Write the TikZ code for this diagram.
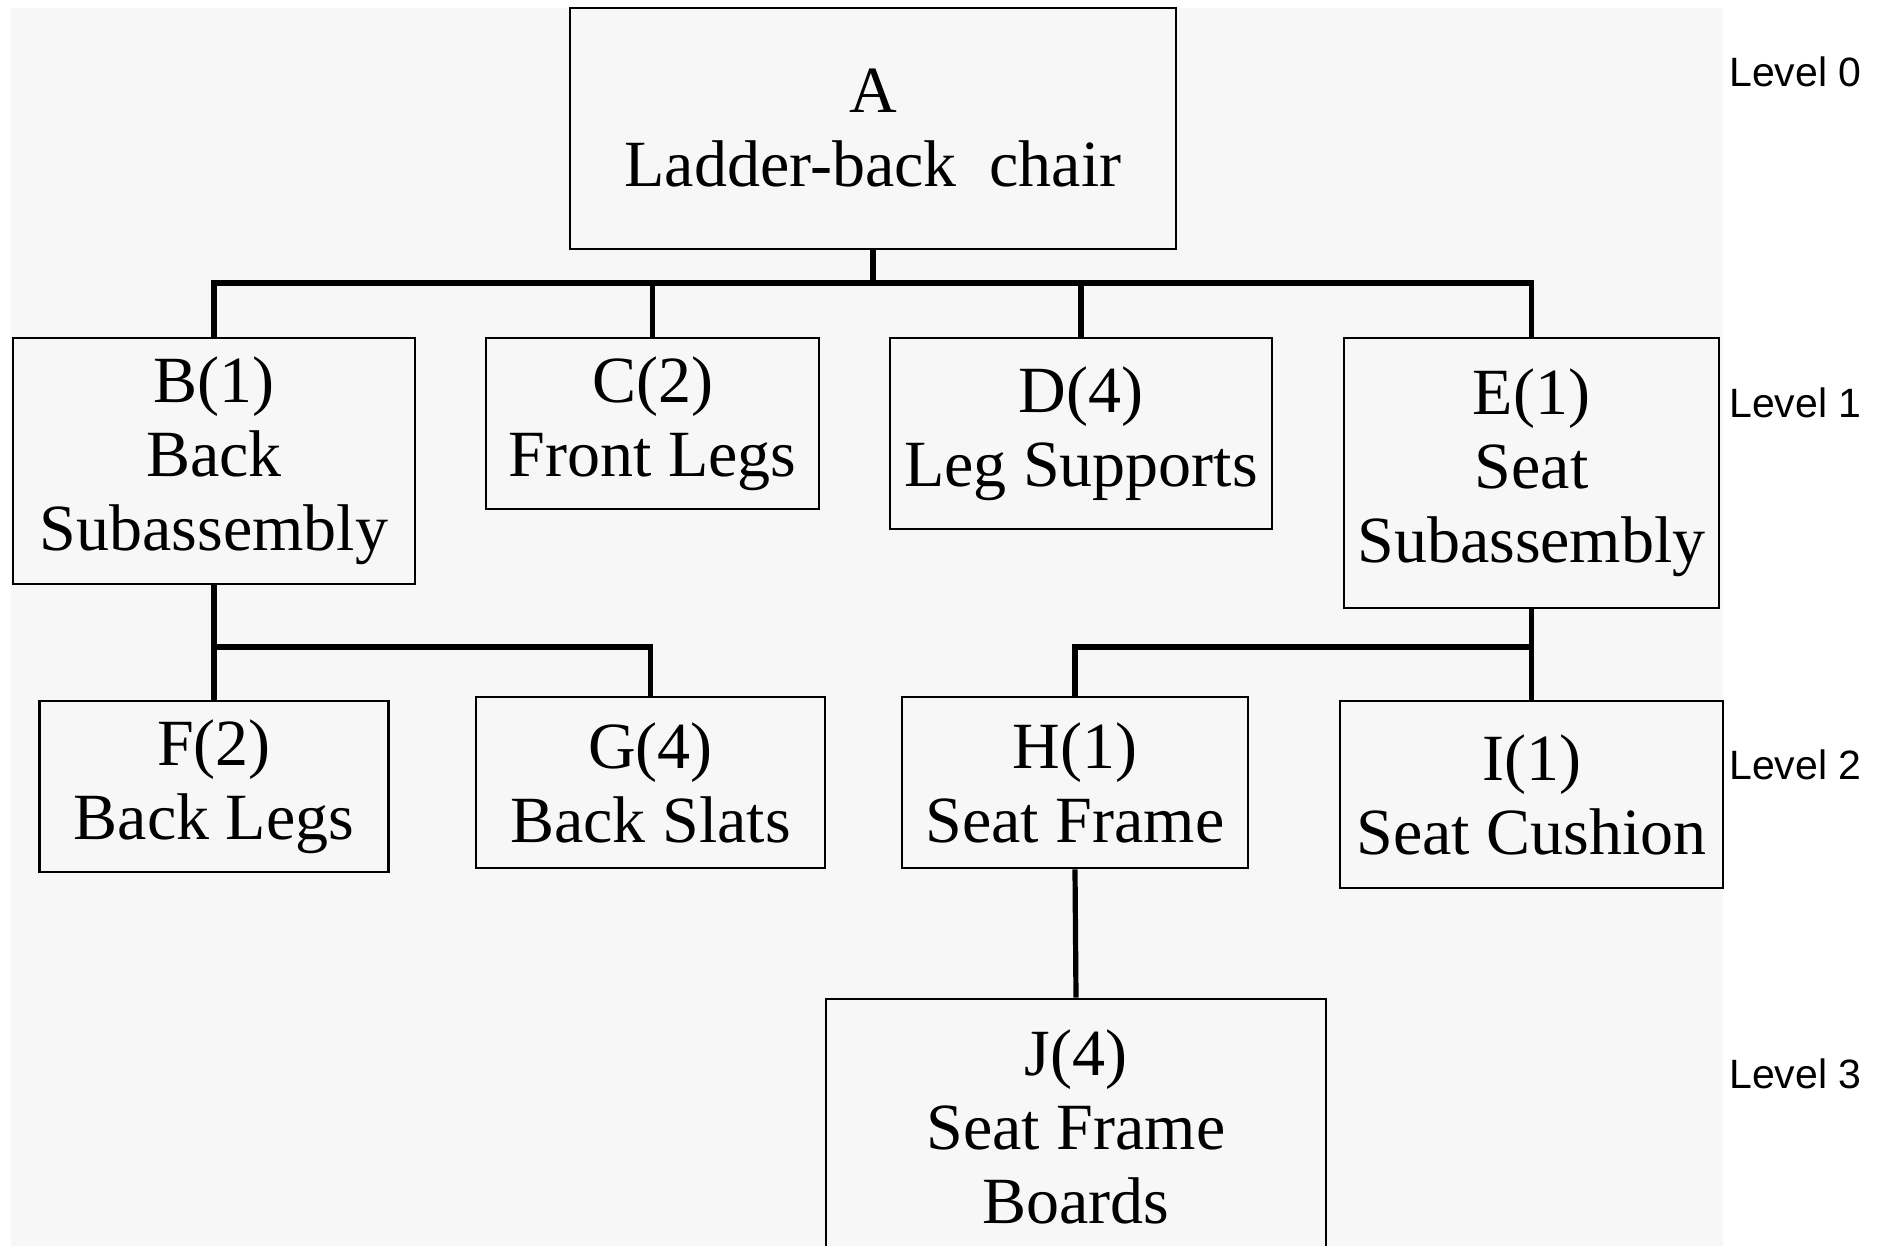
\documentclass[tikz,border=0pt]{standalone}
\usepackage{fontspec}
\setmainfont{Liberation Serif}
\newfontfamily\levelfont{Liberation Sans}
\definecolor{paper}{HTML}{F7F7F7}
\begin{document}
\begin{tikzpicture}[x=1pt,y=1pt,
  part/.style={draw=black, line width=2.6pt, align=center, inner sep=0pt,
    font=\fontsize{66}{74}\selectfont},
  conn/.style={draw=black, line width=5.2pt},
  levellabel/.style={anchor=west, inner sep=0pt, font=\levelfont\fontsize{41}{41}\selectfont}]
  \useasboundingbox (0,0) rectangle (1885,-1246);
  \fill[paper] (11,-8) rectangle (1723,-1246);

  % level 0
  \node[part, minimum width=606, minimum height=241] (A) at (873,-128.5) {A\\Ladder-back\ \ chair};
  % level 1
  \node[part, minimum width=402, minimum height=246] (B) at (214,-461) {B(1)\\Back\\Subassembly};
  \node[part, minimum width=333, minimum height=171] (C) at (652.5,-423.5) {C(2)\\Front Legs};
  \node[part, minimum width=382, minimum height=191] (D) at (1081,-433.5) {D(4)\\Leg Supports};
  \node[part, minimum width=375, minimum height=270] (E) at (1531.5,-473) {E(1)\\Seat\\Subassembly};
  % level 2
  \node[part, minimum width=349, minimum height=171] (F) at (214,-786.5) {F(2)\\Back Legs};
  \node[part, minimum width=349, minimum height=171] (G) at (650.5,-782.5) {G(4)\\Back Slats};
  \node[part, minimum width=346, minimum height=171] (H) at (1075,-782.5) {H(1)\\Seat Frame};
  \node[part, minimum width=383, minimum height=187] (I) at (1531.5,-794.5) {I(1)\\Seat Cushion};
  % level 3
  \node[part, minimum width=500, minimum height=256] (J) at (1076,-1127) {J(4)\\Seat Frame\\Boards};

  % level names
  \node[levellabel] (L0) at (1729,-72) {Level 0};
  \node[levellabel] (L1) at (1729,-403) {Level 1};
  \node[levellabel] (L2) at (1729,-765) {Level 2};
  \node[levellabel] (L3) at (1729,-1074) {Level 3};

  % bus lines
  \coordinate (busA) at (A.south |- 0,-283);
  \coordinate (busB) at (B.south |- 0,-647);
  \coordinate (busE) at (E.south |- 0,-647);

  \draw[conn] (A.south) -- (busA);
  \draw[conn] (B.north) |- (E.north |- busA) -- (E.north);
  \draw[conn] (C.north) -- (C.north |- busA);
  \draw[conn] (D.north) -- (D.north |- busA);

  \draw[conn] (B.south) -- (busB);
  \draw[conn] (F.north) |- (G.north |- busB) -- (G.north);

  \draw[conn] (E.south) -- (busE);
  \draw[conn] (I.north) |- (H.north |- busE) -- (H.north);

  \draw[conn] (H.south) -- (J.north);
\end{tikzpicture}
\end{document}
